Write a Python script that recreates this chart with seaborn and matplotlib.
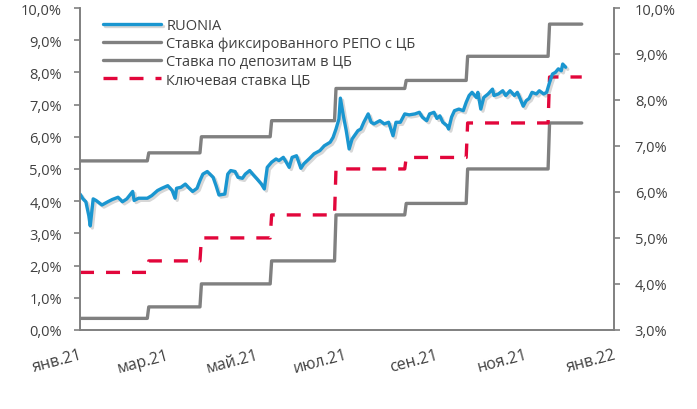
import numpy as np
import pandas as pd
import matplotlib
matplotlib.use("Agg")
import matplotlib.pyplot as plt
import matplotlib.patheffects as pe
from matplotlib.ticker import FuncFormatter, MultipleLocator
import seaborn as sns

# RUONIA, % (left axis)
ruonia_dates = [
    "2021-01-01", "2021-01-03", "2021-01-05", "2021-01-07", "2021-01-08", "2021-01-10",
    "2021-01-12", "2021-01-16", "2021-01-20", "2021-01-23", "2021-01-27", "2021-01-30",
    "2021-02-02", "2021-02-06", "2021-02-07", "2021-02-10", "2021-02-16", "2021-02-19",
    "2021-02-23", "2021-02-26", "2021-03-02", "2021-03-05", "2021-03-07", "2021-03-08",
    "2021-03-11", "2021-03-14", "2021-03-16", "2021-03-19", "2021-03-22", "2021-03-24",
    "2021-03-26", "2021-03-29", "2021-04-02", "2021-04-04", "2021-04-06", "2021-04-10",
    "2021-04-12", "2021-04-14", "2021-04-17", "2021-04-19", "2021-04-22", "2021-04-24",
    "2021-04-27", "2021-04-29", "2021-05-02", "2021-05-05", "2021-05-07", "2021-05-09",
    "2021-05-12", "2021-05-15", "2021-05-17", "2021-05-20", "2021-05-22", "2021-05-24",
    "2021-05-26", "2021-05-29", "2021-06-01", "2021-06-03", "2021-06-07", "2021-06-10",
    "2021-06-14", "2021-06-17", "2021-06-21", "2021-06-23", "2021-06-25", "2021-06-27",
    "2021-06-28", "2021-06-30", "2021-07-02", "2021-07-04", "2021-07-06", "2021-07-10",
    "2021-07-12", "2021-07-14", "2021-07-17", "2021-07-19", "2021-07-21", "2021-07-25",
    "2021-07-28", "2021-07-31", "2021-08-03", "2021-08-05", "2021-08-08", "2021-08-11",
    "2021-08-14", "2021-08-18", "2021-08-21", "2021-08-23", "2021-08-26", "2021-08-28",
    "2021-08-31", "2021-09-02", "2021-09-04", "2021-09-06", "2021-09-09", "2021-09-10",
    "2021-09-12", "2021-09-14", "2021-09-17", "2021-09-20", "2021-09-22", "2021-09-24",
    "2021-09-26", "2021-09-29", "2021-09-30", "2021-10-02", "2021-10-04", "2021-10-07",
    "2021-10-10", "2021-10-11", "2021-10-14", "2021-10-17", "2021-10-19", "2021-10-22",
    "2021-10-25", "2021-10-27", "2021-10-29", "2021-10-31", "2021-11-02", "2021-11-04",
    "2021-11-06", "2021-11-09", "2021-11-11", "2021-11-14", "2021-11-16", "2021-11-18",
    "2021-11-20", "2021-11-22", "2021-11-24", "2021-11-26", "2021-11-27", "2021-11-29",
]
ruonia_values = [
    4.22, 4.07, 3.98, 3.55, 3.23, 4.07,
    4.02, 3.88, 3.98, 4.05, 4.12, 3.98,
    4.07, 4.30, 4.02, 4.09, 4.09, 4.17,
    4.33, 4.40, 4.48, 4.33, 4.09, 4.40,
    4.43, 4.53, 4.43, 4.30, 4.40, 4.64,
    4.84, 4.92, 4.74, 4.48, 4.19, 4.22,
    4.84, 4.95, 4.92, 4.74, 4.71, 4.84,
    4.95, 4.84, 4.69, 4.53, 4.38, 5.05,
    5.21, 5.31, 5.26, 5.36, 5.21, 5.05,
    5.36, 5.41, 5.02, 5.16, 5.33, 5.47,
    5.57, 5.72, 5.83, 5.98, 6.24, 6.55,
    7.20, 6.66, 6.19, 5.62, 5.93, 6.19,
    6.24, 6.45, 6.71, 6.45, 6.40, 6.50,
    6.40, 6.45, 6.03, 6.45, 6.45, 6.71,
    6.68, 6.71, 6.76, 6.61, 6.50, 6.71,
    6.76, 6.57, 6.65, 6.45, 6.34, 6.24,
    6.61, 6.81, 6.86, 6.81, 7.07, 7.28,
    7.38, 7.22, 7.38, 6.86, 7.22, 7.33,
    7.48, 7.28, 7.33, 7.43, 7.28, 7.43,
    7.28, 7.38, 7.17, 6.95, 7.12, 7.19,
    7.38, 7.33, 7.43, 7.33, 7.38, 7.69,
    7.95, 8.00, 8.11, 8.05, 8.26, 8.16,
]

# policy corridor: dates of change and levels, %
change_dates = ["2021-01-01", "2021-02-17", "2021-03-25", "2021-05-12",
                "2021-06-25", "2021-08-12", "2021-09-23", "2021-11-18"]
repo_rate = [5.25, 5.5, 6.0, 6.5, 7.5, 7.75, 8.5, 9.5]      # left axis
deposit_rate = [3.25, 3.5, 4.0, 4.5, 5.5, 5.75, 6.5, 7.5]   # right axis
key_rate = [4.25, 4.5, 5.0, 5.5, 6.5, 6.75, 7.5, 8.5]       # right axis
corridor_end = "2021-12-12"

xtick_labels = ["янв.21", "мар.21", "май.21", "июл.21", "сен.21", "ноя.21", "янв.22"]
labels = ["RUONIA", "Ставка фиксированного РЕПО с ЦБ",
          "Ставка по депозитам в ЦБ", "Ключевая ставка ЦБ"]

sns.set_style("white")
plt.rcParams['font.family'] = ['Open Sans', 'DejaVu Sans']

# daily step series from the change points
days = pd.bdate_range("2021-01-01", corridor_end)
steps = pd.DataFrame({"repo": repo_rate, "dep": deposit_rate, "key": key_rate},
                     index=pd.to_datetime(change_dates))
steps = steps.reindex(days.union(steps.index)).ffill()
steps = steps.loc[days]
steps.index.name = "date"
steps = steps.reset_index()

ru = pd.DataFrame({"date": pd.to_datetime(ruonia_dates), "v": ruonia_values})

blue = "#1a96d0"
grey = "#808080"
red = "#e2063b"
txt = "#404040"
axc = "#808080"

fig = plt.figure(figsize=(6.97, 4.10), dpi=100)
ax = fig.add_axes([0.1148, 0.193, 0.766, 0.785])
ax2 = ax.twinx()

sns.lineplot(data=steps, x="date", y="repo", ax=ax, color=grey, lw=2.4)
sns.lineplot(data=ru, x="date", y="v", ax=ax, color=blue, lw=2.4,
             path_effects=[pe.SimpleLineShadow(offset=(1.5, -1.5), alpha=0.25,
                                               shadow_color="#606060"), pe.Normal()])
sns.lineplot(data=steps, x="date", y="dep", ax=ax2, color=grey, lw=2.4)
sns.lineplot(data=steps, x="date", y="key", ax=ax2, color=red, lw=2.4,
             dashes=False)
ax2.lines[-1].set_dashes((4.2, 3.6))

ax.set_zorder(ax2.get_zorder() + 1)
ax.patch.set_visible(False)

ax.set_xlim(pd.Timestamp("2021-01-01"), pd.Timestamp("2022-01-01"))
ax.set_ylim(0, 10)
ax2.set_ylim(3, 10)
ax.yaxis.set_major_locator(MultipleLocator(1))
ax2.yaxis.set_major_locator(MultipleLocator(1))
fmt = FuncFormatter(lambda v, p: f"{v:.1f}%".replace(".", ","))
ax.yaxis.set_major_formatter(fmt)
ax2.yaxis.set_major_formatter(fmt)

ticks = pd.date_range("2021-01-01", "2022-01-01", freq="2MS")
ax.set_xticks(ticks)
ax.set_xticklabels(xtick_labels, rotation=15, ha="right", rotation_mode="anchor")
ax.set_xlabel("")
ax.set_ylabel("")
ax2.set_ylabel("")

for a in (ax, ax2):
    for s in a.spines.values():
        s.set_color(axc)
        s.set_linewidth(1.2)
    a.spines["top"].set_visible(False)
    a.tick_params(colors=axc, labelcolor=txt, labelsize=10.5, length=4, width=1.2)
ax.tick_params(axis="x", pad=8, labelsize=11.5)
ax.tick_params(axis="y", pad=9)
ax2.tick_params(axis="y", pad=11)

handles = [ax.lines[1], ax.lines[0], ax2.lines[0], ax2.lines[1]]
ax.legend(handles, labels, loc="upper left", bbox_to_anchor=(0.043, 0.968),
          frameon=False, fontsize=10.5, labelcolor=txt, handlelength=4.0,
          handletextpad=0.35, labelspacing=0.2, borderaxespad=0, borderpad=0)

fig.savefig("out.png", dpi=100)
